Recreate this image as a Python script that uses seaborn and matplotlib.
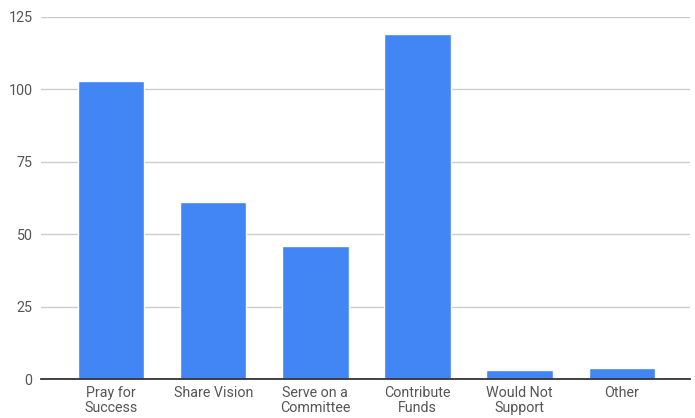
import matplotlib
matplotlib.use("Agg")
import matplotlib.pyplot as plt
import seaborn as sns
import pandas as pd

categories = ["Pray for\nSuccess", "Share Vision", "Serve on a\nCommittee",
              "Contribute\nFunds", "Would Not\nSupport", "Other"]
values = [103, 61, 46, 119, 3, 4]
yticks = [0, 25, 50, 75, 100, 125]

sns.set_theme(style="white")
plt.rcParams['font.family'] = ['Roboto', 'DejaVu Sans']

df = pd.DataFrame({"category": categories, "value": values})

fig = plt.figure(figsize=(6.95, 4.18), dpi=100)
ax = fig.add_axes([0.059, 0.093, 0.934, 0.867])
sns.barplot(data=df, x="category", y="value", color="#4285F4", saturation=1,
            width=0.65, ax=ax, zorder=3)

ax.set_ylim(0, 125)
ax.set_yticks(yticks)
ax.set_yticklabels([str(t) for t in yticks])
ax.yaxis.grid(True, color="#cccccc", linewidth=1, zorder=0)
ax.set_axisbelow(True)
ax.set_xlabel("")
ax.set_ylabel("")
for s in ["top", "right", "left"]:
    ax.spines[s].set_visible(False)
ax.spines["bottom"].set_color("#333333")
ax.spines["bottom"].set_linewidth(1.3)
ax.spines["bottom"].set_zorder(4)
ax.tick_params(axis="both", length=0, labelsize=10.3, colors="#555555")
ax.tick_params(axis="y", pad=6)
ax.tick_params(axis="x", pad=5)
for lbl in ax.get_xticklabels():
    lbl.set_linespacing(1.1)
ax.set_xlim(-0.686, 5.67)

fig.savefig("out.png", dpi=100)
